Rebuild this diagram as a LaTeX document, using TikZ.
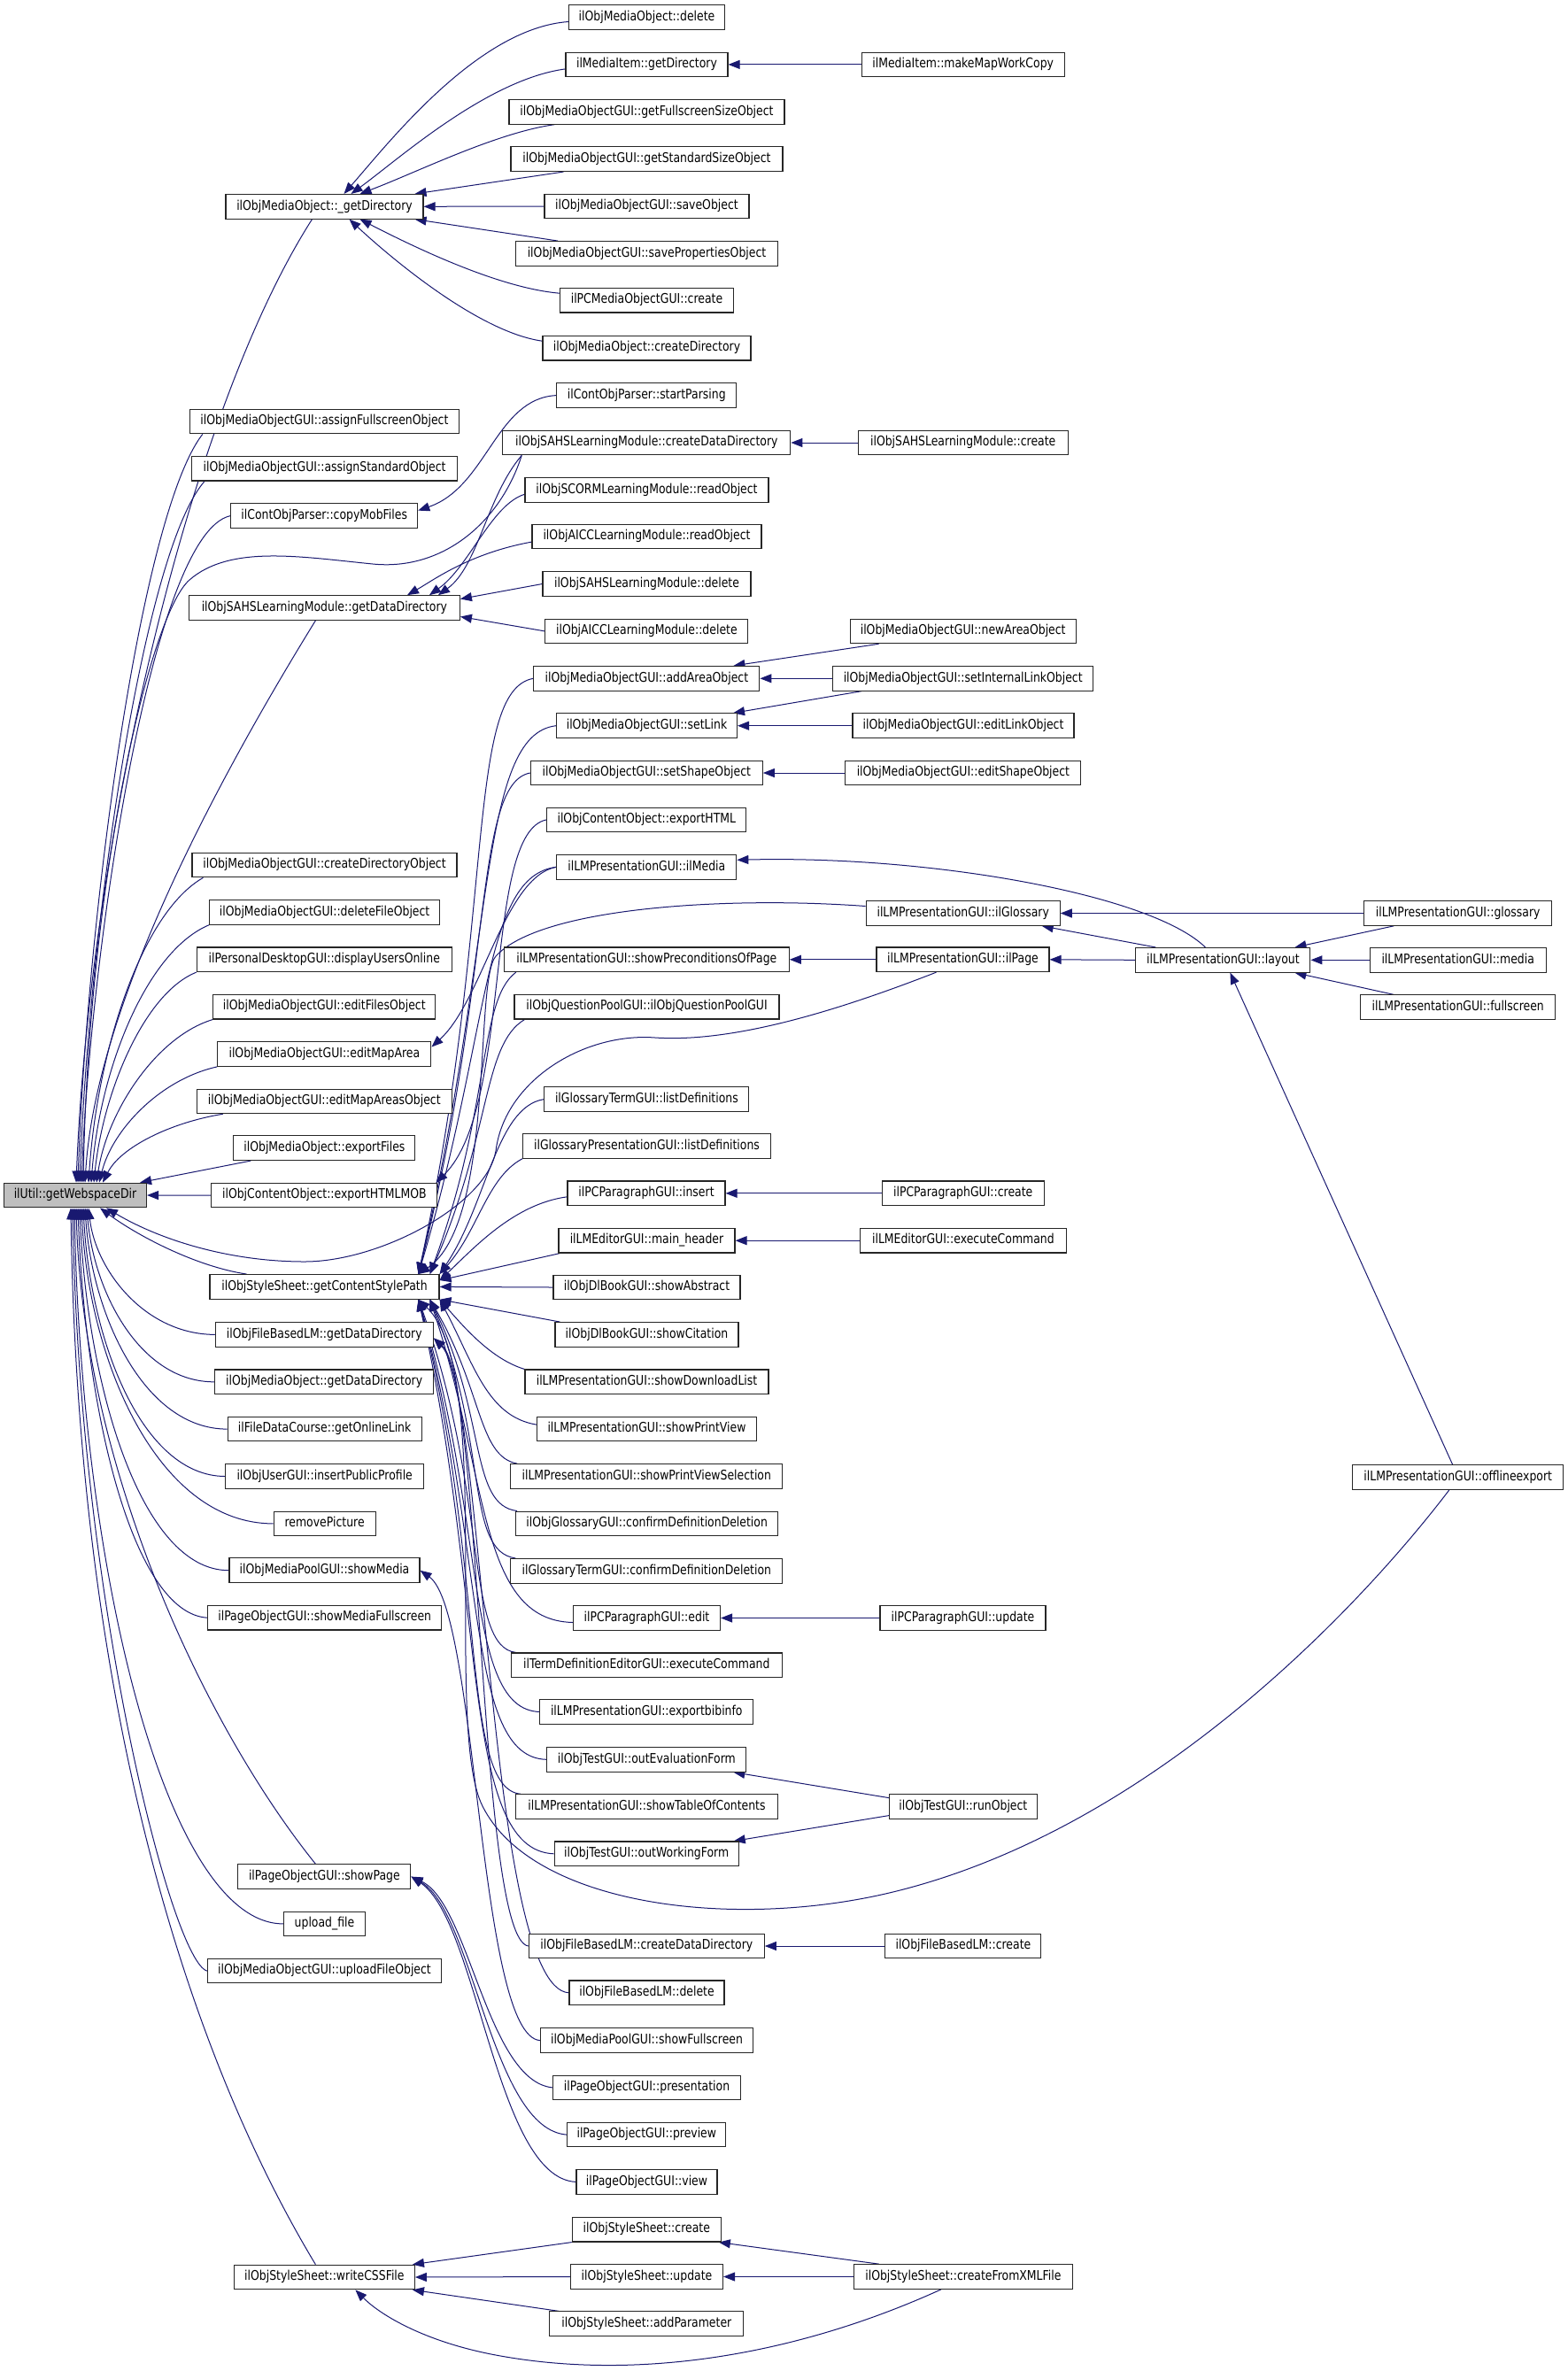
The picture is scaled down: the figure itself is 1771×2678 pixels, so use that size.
\documentclass[tikz,border=0pt]{standalone}
\usepackage{fontspec}
\setmainfont{DejaVu Sans}[FakeStretch=0.83]
\usetikzlibrary{arrows.meta}
\definecolor{edgec}{HTML}{191970}
\definecolor{rootfill}{HTML}{BFBFBF}
\pgfdeclarelayer{bg}
\pgfsetlayers{bg,main}
\newcommand\mynode[5]{\node[box,minimum width=#4pt] (#1) at (#2,-#3) {#5};}
\begin{document}
\begin{tikzpicture}[x=1pt,y=1pt,
 box/.style={draw=black!85, fill=white, line width=1.1pt, minimum height=27.6pt, inner sep=0pt,
   text height=11pt, text depth=3.5pt, font=\fontsize{15}{18}\selectfont},
 ed/.style={draw=edgec, line width=1pt, -{Triangle[length=13pt,width=10pt]}}]
\useasboundingbox (0,0) rectangle (1771,-2678);
% ---------- column 0 ----------
\node[box,fill=rootfill,minimum width=161pt] (root) at (85,-1350) {ilUtil::getWebspaceDir};
% ---------- column 1 ----------
\mynode{gd}{366.5}{233.3}{223}{ilObjMediaObject::\_getDirectory}
\mynode{afo}{366.4}{476}{304}{ilObjMediaObjectGUI::assignFullscreenObject}
\mynode{aso}{366.6}{529.2}{300}{ilObjMediaObjectGUI::assignStandardObject}
\mynode{cmf}{366.2}{582.6}{211}{ilContObjParser::copyMobFiles}
\mynode{sgdd}{366.4}{686.5}{306}{ilObjSAHSLearningModule::getDataDirectory}
\mynode{cdo}{366.5}{977}{299}{ilObjMediaObjectGUI::createDirectoryObject}
\mynode{dfo}{366.6}{1030.4}{260}{ilObjMediaObjectGUI::deleteFileObject}
\mynode{duo}{366.3}{1083.8}{288}{ilPersonalDesktopGUI::displayUsersOnline}
\mynode{efo}{366.3}{1137.2}{251}{ilObjMediaObjectGUI::editFilesObject}
\mynode{ema}{366.4}{1190.5}{241}{ilObjMediaObjectGUI::editMapArea}
\mynode{emao}{366.3}{1243.9}{288}{ilObjMediaObjectGUI::editMapAreasObject}
\mynode{ef}{366.4}{1296.7}{205}{ilObjMediaObject::exportFiles}
\mynode{ehm}{366.4}{1350.1}{255}{ilObjContentObject::exportHTMLMOB}
\mynode{gcsp}{366.5}{1453.4}{259}{ilObjStyleSheet::getContentStylePath}
\mynode{fgdd}{366.3}{1507.4}{246}{ilObjFileBasedLM::getDataDirectory}
\mynode{mgdd}{366.2}{1560.8}{247}{ilObjMediaObject::getDataDirectory}
\mynode{gol}{366.6}{1614.1}{219}{ilFileDataCourse::getOnlineLink}
\mynode{ipp}{366.7}{1667.5}{224}{ilObjUserGUI::insertPublicProfile}
\mynode{rp}{366.6}{1720.9}{115}{removePicture}
\mynode{sm}{366.5}{1773.7}{215}{ilObjMediaPoolGUI::showMedia}
\mynode{smf}{366.7}{1827.2}{264}{ilPageObjectGUI::showMediaFullscreen}
\mynode{sp}{366.4}{2119.6}{195}{ilPageObjectGUI::showPage}
\mynode{uf}{366.5}{2172.9}{92}{upload\_file}
\mynode{ufo}{366.5}{2226.1}{264}{ilObjMediaObjectGUI::uploadFileObject}
\mynode{wcss}{366.4}{2572}{204}{ilObjStyleSheet::writeCSSFile}
% ---------- column 2 ----------
\mynode{mod}{730.5}{19.5}{176}{ilObjMediaObject::delete}
\mynode{mig}{730.5}{72.9}{183}{ilMediaItem::getDirectory}
\mynode{gfs}{730.5}{126.3}{311}{ilObjMediaObjectGUI::getFullscreenSizeObject}
\mynode{gss}{730.5}{179.7}{307}{ilObjMediaObjectGUI::getStandardSizeObject}
\mynode{so}{730.5}{233}{231}{ilObjMediaObjectGUI::saveObject}
\mynode{spo}{730.5}{286.4}{296}{ilObjMediaObjectGUI::savePropertiesObject}
\mynode{pcmc}{730.5}{339.2}{196}{ilPCMediaObjectGUI::create}
\mynode{cd}{730.5}{393.2}{235}{ilObjMediaObject::createDirectory}
\mynode{stp}{730.3}{446.6}{203}{ilContObjParser::startParsing}
\mynode{scdd}{730.3}{500}{325}{ilObjSAHSLearningModule::createDataDirectory}
\mynode{srd}{730.5}{553.3}{275}{ilObjSCORMLearningModule::readObject}
\mynode{ard}{730.5}{606.1}{259}{ilObjAICCLearningModule::readObject}
\mynode{sdel}{730.5}{659.5}{235}{ilObjSAHSLearningModule::delete}
\mynode{adel}{730.4}{712.9}{229}{ilObjAICCLearningModule::delete}
\mynode{aao}{730.4}{766.3}{255}{ilObjMediaObjectGUI::addAreaObject}
\mynode{sl}{730.5}{819.7}{204}{ilObjMediaObjectGUI::setLink}
\mynode{sso}{730.3}{873}{262}{ilObjMediaObjectGUI::setShapeObject}
\mynode{eh}{730.3}{925.9}{225}{ilObjContentObject::exportHTML}
\mynode{ilm}{730.3}{979.3}{203}{ilLMPresentationGUI::ilMedia}
\mynode{spp}{730.3}{1083.8}{322}{ilLMPresentationGUI::showPreconditionsOfPage}
\mynode{qp}{730.5}{1137.2}{299}{ilObjQuestionPoolGUI::ilObjQuestionPoolGUI}
\mynode{gtld}{730.4}{1241.6}{231}{ilGlossaryTermGUI::listDefinitions}
\mynode{gpld}{730.5}{1294.4}{280}{ilGlossaryPresentationGUI::listDefinitions}
\mynode{ins}{730}{1347.8}{178}{ilPCParagraphGUI::insert}
\mynode{mh}{730.5}{1401.2}{199}{ilLMEditorGUI::main\_header}
\mynode{sab}{730.5}{1454}{211}{ilObjDlBookGUI::showAbstract}
\mynode{sci}{730.5}{1507.4}{207}{ilObjDlBookGUI::showCitation}
\mynode{sdl}{730.5}{1560.8}{275}{ilLMPresentationGUI::showDownloadList}
\mynode{spv}{730.5}{1614.1}{248}{ilLMPresentationGUI::showPrintView}
\mynode{spvs}{730.3}{1667.5}{307}{ilLMPresentationGUI::showPrintViewSelection}
\mynode{ogcd}{730.7}{1720.9}{296}{ilObjGlossaryGUI::confirmDefinitionDeletion}
\mynode{gtcd}{730.3}{1774.3}{307}{ilGlossaryTermGUI::confirmDefinitionDeletion}
\mynode{ped}{730.5}{1827.5}{166}{ilPCParagraphGUI::edit}
\mynode{tdec}{730.3}{1880.8}{306}{ilTermDefinitionEditorGUI::executeCommand}
\mynode{ebi}{730.3}{1933.5}{241}{ilLMPresentationGUI::exportbibinfo}
\mynode{oef}{730.3}{1987.3}{225}{ilObjTestGUI::outEvaluationForm}
\mynode{stoc}{730.5}{2040.6}{296}{ilLMPresentationGUI::showTableOfContents}
\mynode{owf}{730.2}{2093.8}{208}{ilObjTestGUI::outWorkingForm}
\mynode{fcdd}{730.3}{2198}{266}{ilObjFileBasedLM::createDataDirectory}
\mynode{fdel}{730.5}{2250.8}{175}{ilObjFileBasedLM::delete}
\mynode{sfs}{730.5}{2304.6}{240}{ilObjMediaPoolGUI::showFullscreen}
\mynode{pres}{730.5}{2357.9}{212}{ilPageObjectGUI::presentation}
\mynode{prev}{730.3}{2411.1}{179}{ilPageObjectGUI::preview}
\mynode{view}{730.5}{2464.4}{159}{ilPageObjectGUI::view}
\mynode{ssc}{730.3}{2518.2}{168}{ilObjStyleSheet::create}
\mynode{ssu}{730.5}{2571.5}{172}{ilObjStyleSheet::update}
\mynode{sap}{730.3}{2624.7}{219}{ilObjStyleSheet::addParameter}
% ---------- column 3 ----------
\mynode{mmwc}{1087.7}{72.9}{229}{ilMediaItem::makeMapWorkCopy}
\mynode{scr}{1087.7}{500}{237}{ilObjSAHSLearningModule::create}
\mynode{nao}{1087.7}{712.9}{255}{ilObjMediaObjectGUI::newAreaObject}
\mynode{silo}{1087.7}{766.3}{294}{ilObjMediaObjectGUI::setInternalLinkObject}
\mynode{elo}{1088}{819.7}{250}{ilObjMediaObjectGUI::editLinkObject}
\mynode{eso}{1087.9}{873}{266}{ilObjMediaObjectGUI::editShapeObject}
\mynode{ilg}{1087.7}{1031.5}{219}{ilLMPresentationGUI::ilGlossary}
\mynode{ilp}{1087.5}{1083.8}{195}{ilLMPresentationGUI::ilPage}
\mynode{pcc}{1087.7}{1347.8}{183}{ilPCParagraphGUI::create}
\mynode{lmec}{1087.9}{1401.2}{233}{ilLMEditorGUI::executeCommand}
\mynode{pcu}{1087.5}{1827.5}{187}{ilPCParagraphGUI::update}
\mynode{ro}{1087.9}{2040.6}{167}{ilObjTestGUI::runObject}
\mynode{fcr}{1087.9}{2198}{176}{ilObjFileBasedLM::create}
\mynode{cfx}{1087.9}{2571.5}{247}{ilObjStyleSheet::createFromXMLFile}
% ---------- columns 4,5 ----------
\mynode{layout}{1381.4}{1084.3}{197}{ilLMPresentationGUI::layout}
\mynode{glossary}{1646.7}{1031.5}{212}{ilLMPresentationGUI::glossary}
\mynode{media}{1646.7}{1084.3}{199}{ilLMPresentationGUI::media}
\mynode{fullscreen}{1646.7}{1137.7}{220}{ilLMPresentationGUI::fullscreen}
\mynode{oe}{1646.7}{1668.7}{238}{ilLMPresentationGUI::offlineexport}
% ---------- target points on getContentStylePath ----------
\coordinate (T1) at ([xshift=-24pt]gcsp.north east);
\coordinate (T2) at ([xshift=-11pt]gcsp.north east);
\coordinate (T3) at (gcsp.north east);
\coordinate (T4) at ([yshift=-7pt]gcsp.north east);
\coordinate (B1) at ([xshift=-24pt]gcsp.south east);
\coordinate (B2) at ([xshift=-11pt]gcsp.south east);
\coordinate (B3) at (gcsp.south east);
\begin{pgfonlayer}{bg}
% to _getDirectory
\draw[ed] ([yshift=-5pt]mod.west) .. controls (540,-32) and (440,-160) .. ([xshift=22pt]gd.north);
\draw[ed] ([yshift=-5pt]mig.west) .. controls (550,-90) and (450,-180) .. ([xshift=30pt]gd.north);
\draw[ed] ([xshift=52pt]gfs.south west) .. controls (560,-150) and (470,-195) .. ([xshift=40pt]gd.north);
\draw[ed] ([xshift=60pt]gss.south west) -- ([xshift=-10pt]gd.north east);
\draw[ed] (so.west) -- (gd.east);
\draw[ed] ([xshift=48pt]spo.north west) -- ([xshift=-10pt]gd.south east);
\draw[ed] ([yshift=8pt]pcmc.west) .. controls (560,-325) and (460,-275) .. ([xshift=40pt]gd.south);
\draw[ed] ([yshift=8pt]cd.west) .. controls (540,-375) and (440,-290) .. ([xshift=28pt]gd.south);
\draw[ed] (mmwc.west) -- (mig.east);
% copyMobFiles, SAHS
\draw[ed] (stp.west) .. controls (560,-450) and (550,-550) .. ([yshift=6pt]cmf.east);
\draw[ed] (scr.west) -- (scdd.east);
\draw[ed] ([xshift=22pt]scdd.south west) .. controls (550,-560) and (540,-640) .. ([xshift=-25pt]sgdd.north east);
\draw[ed] ([yshift=-5pt]srd.west) .. controls (555,-570) and (530,-640) .. ([xshift=-35pt]sgdd.north east);
\draw[ed] ([yshift=-6pt]ard.west) .. controls (530,-625) and (490,-655) .. ([xshift=-60pt]sgdd.north east);
\draw[ed] (sdel.west) -- ([yshift=10pt]sgdd.east);
\draw[ed] (adel.west) -- ([yshift=-10pt]sgdd.east);
% to root, from above
\draw[ed] ([xshift=-14pt]gd.south) .. controls (212,-467) and (101,-956) .. ([xshift=1pt]root.north);
\draw[ed] ([xshift=15pt]afo.south west) .. controls (159,-580) and (98,-1036) .. ([xshift=3pt]root.north);
\draw[ed] ([xshift=15pt]aso.south west) .. controls (161,-623) and (100,-1056) .. ([xshift=5pt]root.north);
\draw[ed] (cmf.west) .. controls (171,-602) and (102,-1076) .. ([xshift=7pt]root.north);
\draw[ed] ([xshift=22pt]scdd.south west) .. controls (565,-590) and (500,-645) .. (421,-637)
   .. controls (340,-629) and (260,-615) .. (214,-655) .. controls (168,-695) and (100,-1000) .. ([xshift=9pt]root.north);
\draw[ed] ([xshift=-10pt]sgdd.south) .. controls (246,-880) and (108,-1136) .. ([xshift=11pt]root.north);
\draw[ed] ([xshift=13pt]cdo.south west) .. controls (160,-1031) and (110,-1186) .. ([xshift=15pt]root.north);
\draw[ed] (dfo.south west) .. controls (166,-1074) and (113,-1206) .. ([xshift=18pt]root.north);
\draw[ed] (duo.south west) .. controls (162,-1122) and (116,-1236) .. ([xshift=21pt]root.north);
\draw[ed] (efo.south west) .. controls (176,-1171) and (121,-1256) .. ([xshift=24pt]root.north);
\draw[ed] (ema.south west) .. controls (181,-1219) and (127,-1276) .. ([xshift=27pt]root.north);
\draw[ed] ([xshift=30pt]emao.south west) .. controls (192,-1268) and (136,-1296) .. ([xshift=31pt]root.north);
\draw[ed] ([xshift=20pt]ef.south west) -- ([xshift=-8pt]root.north east);
\draw[ed] (ehm.west) -- (root.east);
% to root, from below
\draw[ed] ([xshift=42pt]gcsp.north west) .. controls (219,-1430) and (153,-1394) .. ([xshift=28pt]root.south);
\draw[ed] ([xshift=-30pt]ilp.south) .. controls (950,-1140) and (830,-1178) .. (740,-1172)
   .. controls (660,-1166) and (570,-1220) .. (560,-1300) .. controls (550,-1360) and (430,-1425) .. (344,-1425)
   .. controls (258,-1425) and (180,-1400) .. ([xshift=35pt]root.south);
\draw[ed] (fgdd.west) .. controls (163,-1507) and (108,-1434) .. ([xshift=15pt]root.south);
\draw[ed] (mgdd.west) .. controls (158,-1561) and (106,-1459) .. ([xshift=13pt]root.south);
\draw[ed] (gol.west) .. controls (162,-1614) and (104,-1484) .. ([xshift=11pt]root.south);
\draw[ed] (ipp.west) .. controls (160,-1667) and (102,-1514) .. ([xshift=9pt]root.south);
\draw[ed] (rp.west) .. controls (179,-1721) and (100,-1539) .. ([xshift=7pt]root.south);
\draw[ed] (sm.west) .. controls (159,-1774) and (98,-1564) .. ([xshift=5pt]root.south);
\draw[ed] (smf.west) .. controls (150,-1822) and (96,-1594) .. ([xshift=3pt]root.south);
\draw[ed] ([xshift=-10pt]sp.north) .. controls (236,-1956) and (94,-1664) .. ([xshift=1pt]root.south);
\draw[ed] (uf.west) .. controls (190,-2173) and (92,-1784) .. ([xshift=-1pt]root.south);
\draw[ed] (ufo.west) .. controls (195,-2216) and (90,-1814) .. ([xshift=-3pt]root.south);
\draw[ed] ([xshift=-10pt]wcss.north) .. controls (206,-2308) and (88,-1914) .. ([xshift=-5pt]root.south);
% to getContentStylePath from above
\draw[ed] (aao.west) .. controls (525,-780) and (560,-1036) .. (T1);
\draw[ed] (sl.west) .. controls (540,-830) and (560,-1067) .. (T1);
\draw[ed] (sso.west) .. controls (535,-885) and (558,-1100) .. (T1);
\draw[ed] (ilm.west) .. controls (545,-990) and (555,-1160) .. (T1);
\draw[ed] (ilm.west) .. controls (570,-990) and (545,-1130) .. ([yshift=8pt]ema.east);
\draw[ed] ([yshift=8pt]ilg.west) .. controls (820,-1012) and (610,-1025) .. (560,-1080)
   .. controls (535,-1108) and (560,-1380) .. (T1);
\draw[ed] ([xshift=14pt]spp.south west) .. controls (540,-1130) and (555,-1250) .. (T2);
\draw[ed] ([xshift=12pt]qp.south west) .. controls (545,-1180) and (555,-1280) .. (T2);
\draw[ed] (gtld.west) .. controls (560,-1250) and (550,-1360) .. (T3);
\draw[ed] (gpld.south west) .. controls (550,-1330) and (540,-1390) .. (T3);
\draw[ed] ([yshift=-4pt]ins.west) .. controls (580,-1360) and (535,-1410) .. (T4);
\draw[ed] ([xshift=2pt]mh.south west) -- (T4);
\draw[ed] (sab.west) -- (gcsp.east);
% to getContentStylePath from below
\draw[ed] ([xshift=6pt]sci.north west) -- (B3);
\draw[ed] (sdl.north west) .. controls (555,-1535) and (525,-1500) .. (B3);
\draw[ed] ([yshift=5pt]spv.west) .. controls (550,-1600) and (535,-1540) .. (B3);
\draw[ed] ([xshift=8pt]spvs.north west) .. controls (540,-1645) and (545,-1570) .. (B2);
\draw[ed] ([xshift=2pt]ogcd.north west) .. controls (530,-1700) and (550,-1599) .. (B2);
\draw[ed] ([xshift=6pt]gtcd.north west) .. controls (525,-1752) and (552,-1628) .. (B2);
\draw[ed] ([yshift=-5pt]ped.west) .. controls (540,-1830) and (552,-1668) .. (B2);
\draw[ed] ([xshift=6pt]tdec.north west) .. controls (525,-1860) and (552,-1687) .. (B1);
\draw[ed] (ebi.west) .. controls (525,-1930) and (550,-1724) .. (B1);
\draw[ed] (oef.west) .. controls (525,-1985) and (550,-1753) .. (B1);
\draw[ed] ([xshift=6pt]stoc.north west) .. controls (520,-2020) and (550,-1775) .. (B1);
\draw[ed] (owf.west) .. controls (520,-2090) and (550,-1810) .. (B1);
\draw[ed] ([xshift=-10pt]oe.south) .. controls (1540,-1810) and (1300,-2070) .. (1000,-2139)
   .. controls (820,-2180) and (600,-2150) .. (545,-2040) .. controls (500,-1950) and (560,-1550) .. (B1);
% other left-going edges
\draw[ed] (eh.west) .. controls (545,-940) and (580,-1250) .. ([xshift=-2pt]ehm.north east);
\draw[ed] (fcdd.west) .. controls (540,-2190) and (545,-1560) .. ([yshift=-4pt]fgdd.east);
\draw[ed] (fdel.west) .. controls (550,-2245) and (548,-1570) .. ([yshift=-4pt]fgdd.east);
\draw[ed] (sfs.west) .. controls (540,-2300) and (540,-1820) .. (sm.east);
\draw[ed] (pres.west) .. controls (550,-2350) and (530,-2150) .. (sp.east);
\draw[ed] (prev.west) .. controls (555,-2405) and (535,-2160) .. (sp.east);
\draw[ed] (view.west) .. controls (560,-2460) and (540,-2170) .. (sp.east);
% style sheet
\draw[ed] (ssc.south west) -- ([xshift=-3pt]wcss.north east);
\draw[ed] (ssu.west) -- (wcss.east);
\draw[ed] ([xshift=11pt]sap.north west) -- ([xshift=-3pt]wcss.south east);
\draw[ed] ([xshift=-25pt]cfx.south) .. controls (900,-2660) and (720,-2690) .. (560,-2660)
   .. controls (480,-2645) and (430,-2615) .. ([xshift=35pt]wcss.south);
\draw[ed] ([xshift=29pt]cfx.north west) -- ([xshift=-3pt]ssc.south east);
\draw[ed] (cfx.west) -- (ssu.east);
% right column to middle
\draw[ed] ([xshift=33pt]nao.south west) -- ([xshift=-30pt]aao.north east);
\draw[ed] (silo.west) -- (aao.east);
\draw[ed] ([xshift=33pt]silo.south west) -- ([xshift=-5pt]sl.north east);
\draw[ed] (elo.west) -- (sl.east);
\draw[ed] (eso.west) -- (sso.east);
\draw[ed] (pcc.west) -- (ins.east);
\draw[ed] (lmec.west) -- (mh.east);
\draw[ed] (pcu.west) -- (ped.east);
\draw[ed] ([yshift=10pt]ro.west) -- ([xshift=-15pt]oef.south east);
\draw[ed] ([yshift=-10pt]ro.west) -- ([xshift=-6pt]owf.north east);
\draw[ed] (fcr.west) -- (fcdd.east);
% layout
\draw[ed] (layout.west) -- (ilp.east);
\draw[ed] (ilp.west) -- (spp.east);
\draw[ed] ([xshift=23pt]layout.north west) -- ([xshift=-21pt]ilg.south east);
\draw[ed] ([xshift=-20pt]layout.north) .. controls (1300,-1010) and (1050,-966) .. ([yshift=8pt]ilm.east);
\draw[ed] (glossary.west) -- (ilg.east);
\draw[ed] ([xshift=34pt]glossary.south west) -- ([xshift=-18pt]layout.north east);
\draw[ed] (media.west) -- (layout.east);
\draw[ed] ([xshift=38pt]fullscreen.north west) -- ([xshift=-18pt]layout.south east);
\draw[ed] ([xshift=-6pt]oe.north) -- ([xshift=8pt]layout.south);
\end{pgfonlayer}
\end{tikzpicture}
\end{document}
